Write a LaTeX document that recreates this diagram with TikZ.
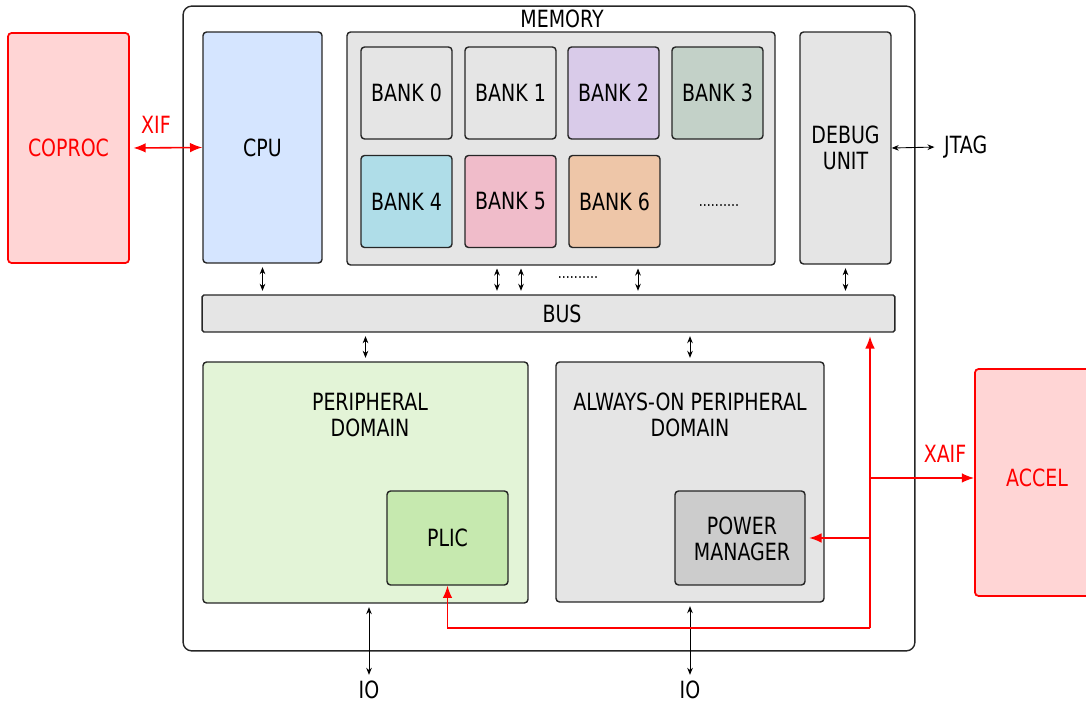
\documentclass[tikz,border=0pt]{standalone}
\usepackage{fontspec}
\setmainfont{DejaVu Sans}[FakeStretch=0.8]
\usepackage{tikz}
\usetikzlibrary{arrows.meta}
\definecolor{Socred}{HTML}{FF0000}
\definecolor{Coprocfill}{HTML}{FFD5D5}
\definecolor{Cpufill}{HTML}{D5E5FF}
\definecolor{Memfill}{HTML}{E5E5E5}
\definecolor{Banklilac}{HTML}{D9CBE9}
\definecolor{Banksage}{HTML}{C3D1C8}
\definecolor{Bankcyan}{HTML}{AFDDE8}
\definecolor{Bankpink}{HTML}{F0BCCA}
\definecolor{Bankpeach}{HTML}{EEC6A8}
\definecolor{Perifill}{HTML}{E3F4D7}
\definecolor{Plicfill}{HTML}{C6E9AF}
\definecolor{Pmfill}{HTML}{CCCCCC}
\tikzstyle{block} = [
    draw=black!85,
    line width=0.8pt,
    rounded corners=2pt,
    align=center,
    inner sep=0pt,
    font=\fontsize{13.5}{14.7}\selectfont
]
\tikzstyle{ext} = [
    block,
    draw=Socred,
    fill=Coprocfill,
    text=Socred,
    line width=1pt
]
\tikzstyle{link} = [
    line width=0.5pt,
    {Stealth[length=4pt,width=3.2pt]}-{Stealth[length=4pt,width=3.2pt]},
    shorten <=2pt,
    shorten >=2pt
]
\tikzstyle{redlink} = [
    Socred,
    line width=0.9pt,
    -{Latex[length=7pt,width=5.5pt]}
]
\tikzstyle{txt} = [
    align=center,
    font=\fontsize{13.5}{14.7}\selectfont
]

\begin{document}
\begin{tikzpicture}[x=0.02cm,y=-0.02cm]
    \useasboundingbox (0,0) rectangle (1086,702);
    % SoC outline
    \node[block, rounded corners=5pt, minimum width=14.64cm, minimum height=12.9cm] (soc) at (549,328.5) {};
    % External units
    \node[ext, minimum width=2.42cm, minimum height=4.6cm] (coproc) at (68.5,148) {COPROC};
    \node[ext, minimum width=2.46cm, minimum height=4.54cm] (accel) at (1036.5,482.5) {};
    \node[txt, text=Socred] (accellbl) at (1037,478) {ACCEL};
    % CPU, memory and debug
    \node[block, fill=Cpufill, minimum width=2.38cm, minimum height=4.62cm] (cpu) at (262.5,147.5) {CPU};
    \node[block, fill=Memfill, minimum width=8.56cm, minimum height=4.66cm] (mem) at (561,148.5) {};
    \node[txt] (memlbl) at (562,19) {MEMORY};
    \foreach \i/\x/\y/\c in {0/406.5/93/Memfill, 1/510.5/93/Memfill, 2/613.5/93/Banklilac, 3/717.5/93/Banksage,
                             4/406.5/201.5/Bankcyan, 5/510.5/201.5/Bankpink, 6/614.5/201.5/Bankpeach}
        \node[block, fill=\c, minimum width=1.82cm, minimum height=1.84cm] (bank\i) at (\x,\y) {BANK \i};
    \node[font=\fontsize{9}{9}\selectfont] (memdots) at (719,206) {..........};
    \node[block, fill=Memfill, minimum width=1.82cm, minimum height=4.64cm] (debug) at (845.5,148) {DEBUG\\UNIT};
    \node[txt, anchor=west] (jtag) at (938,147) {JTAG};
    % Bus
    \node[block, fill=Memfill, rounded corners=1pt, minimum width=13.86cm, minimum height=0.74cm] (bus) at (548.5,313.5) {};
    \node[txt] (buslbl) at (562,313.5) {BUS};
    \node[font=\fontsize{9}{9}\selectfont] (busdots) at (578,278) {..........};
    % Peripheral domains
    \node[block, fill=Perifill, minimum width=6.5cm, minimum height=4.82cm] (peri) at (365.5,482.5) {};
    \node[txt] (perilbl) at (370,415) {PERIPHERAL\\DOMAIN};
    \node[block, fill=Plicfill, minimum width=2.42cm, minimum height=1.88cm] (plic) at (447.5,538) {PLIC};
    \node[block, fill=Memfill, minimum width=5.36cm, minimum height=4.8cm] (aon) at (690,482) {};
    \node[txt] (aonlbl) at (690,415) {ALWAYS-ON PERIPHERAL\\DOMAIN};
    \node[block, fill=Pmfill, minimum width=2.6cm, minimum height=1.88cm] (pm) at (740,538) {};
    \node[txt] (pmlbl) at (742,539) {POWER\\MANAGER};
    % IO
    \node[txt] (io1) at (369,690) {IO};
    \node[txt] (io2) at (690,690) {IO};
    % Bus connections
    \coordinate (m1) at (497,265);
    \coordinate (m2) at (521,265);
    \coordinate (m3) at (638,265);
    \draw[link] (cpu.south) -- (cpu.south |- bus.north);
    \draw[link] (m1) -- (m1 |- bus.north);
    \draw[link] (m2) -- (m2 |- bus.north);
    \draw[link] (m3) -- (m3 |- bus.north);
    \draw[link] (debug.south) -- (debug.south |- bus.north);
    \draw[link] (bus.south -| peri.north) -- (peri.north);
    \draw[link] (bus.south -| aon.north) -- (aon.north);
    \draw[link, shorten <=0pt] (debug.east) -- (jtag.west);
    \draw[link, shorten >=0pt] (io1.north |- peri.south) -- (io1.north);
    \draw[link, shorten >=0pt] (io2.north |- aon.south) -- (io2.north);
    % XIF
    \draw[redlink, {Latex[length=7pt,width=5.5pt]}-{Latex[length=7pt,width=5.5pt]}, shorten <=2pt] (coproc.east) -- (cpu.west);
    \node[txt, text=Socred] (xif) at (156,125) {XIF};
    % XAIF
    \coordinate (rj) at (870,628);
    \coordinate (xa) at (870,478);
    \draw[redlink, shorten >=2pt] (rj) -- (rj |- bus.south);
    \draw[redlink] (rj) -| (plic.south);
    \draw[redlink, shorten >=2pt] (rj |- pm.east) -- (pm.east);
    \draw[redlink] (xa) -- (xa -| accel.west);
    \node[txt, text=Socred] (xaif) at (945,454) {XAIF};
\end{tikzpicture}
\end{document}
